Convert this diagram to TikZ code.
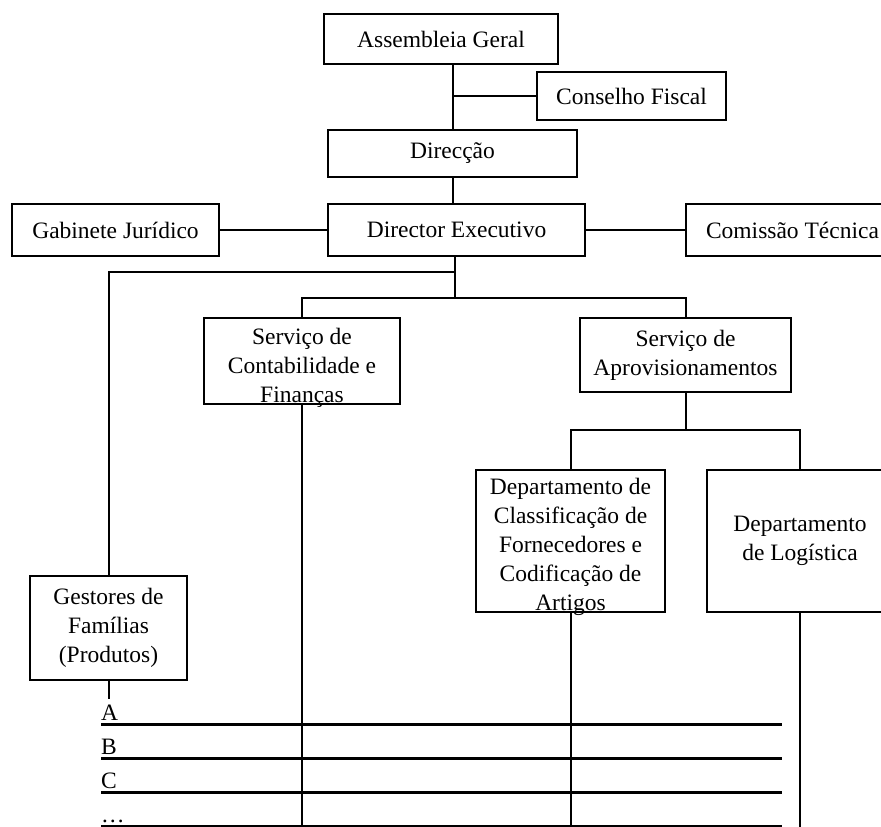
\documentclass[tikz,border=0pt]{standalone}
\usepackage{fontspec}
\setmainfont{Liberation Serif}
\usetikzlibrary{positioning}

\begin{document}
\begin{tikzpicture}[
    x=1pt, y=-1pt,
    box/.style={draw, line width=2pt, inner sep=0pt, align=center, font=\fontsize{23.5}{29}\selectfont},
    txt/.style={inner sep=0pt, align=center, font=\fontsize{23.5}{29}\selectfont},
    link/.style={line width=2pt},
    rule/.style={line width=3pt}
]
\useasboundingbox (0,0) rectangle (881,827);
\clip (0,0) rectangle (881,827);

\node[box, minimum width=234pt, minimum height=50pt] (assembleia) at (441,39) {Assembleia Geral};
\node[box, minimum width=189pt, minimum height=48pt] (conselho) at (631.5,96) {Conselho Fiscal};
\node[box, minimum width=249pt, minimum height=47pt] (direccao) at (452.5,153.5) {Direcção};
\node[box, minimum width=207pt, minimum height=52pt] (gabinete) at (115.5,230) {Gabinete Jurídico};
\node[box, minimum width=257pt, minimum height=52pt] (director) at (456.5,230) {Director Executivo};
\node[box, minimum width=213pt, minimum height=52pt] (comissao) at (792.5,230) {Comissão Técnica};
\node[box, minimum width=196pt, minimum height=86pt] (contab) at (302,361) {};
\node[txt, below=11pt of contab.north] (contabtxt) {Serviço de\\Contabilidade e\\Finanças};
\node[box, minimum width=211pt, minimum height=74pt] (aprov) at (685.5,355) {Serviço de\\Aprovisionamentos};
\node[box, minimum width=189pt, minimum height=142pt] (classif) at (570.5,541) {};
\node[txt, below=9pt of classif.north] (classiftxt) {Departamento de\\Classificação de\\Fornecedores e\\Codificação de\\Artigos};
\node[box, minimum width=186pt, minimum height=142pt] (logistica) at (800,541) {Departamento\\de Logística};
\node[box, minimum width=157pt, minimum height=104pt] (gestores) at (108.5,628) {Gestores de\\Famílias\\(Produtos)};

% top of the chart
\draw[link] (assembleia.south -| direccao.north) -- (direccao.north);
\draw[link] (conselho.west) -- (conselho.west -| direccao.north);
\draw[link] (direccao.south) -- (direccao.south |- director.north);
\draw[link] (gabinete.east) -- (director.west);
\draw[link] (director.east) -- (comissao.west);

% services
\coordinate (jgest) at (455,272);
\coordinate (jserv) at (455,298);
\coordinate (jdep) at (685.5,430);
\coordinate (base) at (0,827);
\coordinate (gtail) at (108.5,699);
\draw[link] (director.south -| jgest) -- (jserv);
\draw[link] (jgest) -| (gestores.north);
\draw[link] (contab.north) |- (jserv) -| (aprov.north);
\draw[link] (aprov.south) -- (jdep);
\draw[link] (classif.north) |- (jdep) -| (logistica.north);
\draw[link] (gestores.south) -- (gtail);
\draw[link] (contab.south) -- (contab.south |- base);
\draw[link] (classif.south) -- (classif.south |- base);
\draw[link] (logistica.south) -- (logistica.south |- base);

% product families
\foreach \y/\t [count=\i] in {724/A, 758/B, 792/C, 826/\ldots} {
  \node[txt, anchor=base west] (fam\i) at (101,\y-4) {\t};
  \draw[rule] (101,\y) -- (782,\y);
}
\end{tikzpicture}
\end{document}
